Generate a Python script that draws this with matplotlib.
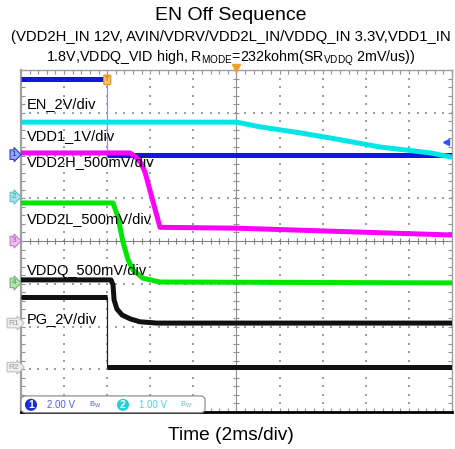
import numpy as np
import matplotlib
matplotlib.use('Agg')
import matplotlib.pyplot as plt
from matplotlib.patches import FancyBboxPatch

plt.rcParams['font.family'] = ['Liberation Sans', 'DejaVu Sans']
plt.rcParams['mathtext.fontset'] = 'custom'
plt.rcParams['mathtext.rm'] = 'Liberation Sans'

# time in ms (2ms/div), voltages in V
en_t = [-10, -6.0, -6.0, 10]
en_v = [3.55, 3.55, 0.0, 0.0]

vdd1_t = [-10, 0.0, 1.1, 2.95, 4.35, 6.65, 9.0, 10]
vdd1_v = [1.75, 1.75, 1.64, 1.50, 1.38, 1.17, 1.03, 0.93]

vdd2h_t = [-10, -4.94, -4.66, -4.43, -4.25, -3.55, 0.0, 10]
vdd2h_v = [1.03, 1.03, 0.98, 0.91, 0.81, 0.16, 0.15, 0.07]

vdd2l_t = [-10, -5.73, -5.50, -5.27, -5.03, -4.80, -4.34, -3.55, 10]
vdd2l_v = [0.935, 0.935, 0.77, 0.48, 0.27, 0.15, 0.055, 0.01, 0.0]

vddq_t = [-10, -5.82, -5.73, -5.68, -5.55, -5.31, -4.94, -4.48, -3.69, 10]
vddq_v = [0.505, 0.505, 0.445, 0.27, 0.165, 0.095, 0.05, 0.015, 0.0, 0.0]

pg_t = [-10, -6.0, -6.0, 10]
pg_v = [3.3, 3.3, 0.0, 0.0]

# channel settings: (V/div, ground position in div)
en_ch = (2.0, 2.02)
vdd1_ch = (1.0, 1.03)
vdd2h_ch = (0.5, 0.0)
vdd2l_ch = (0.5, -0.98)
vddq_ch = (0.5, -1.92)
pg_ch = (2.0, -2.95)

fig = plt.figure(figsize=(4.56, 4.49), dpi=100)
ax = fig.add_axes([21/456, 37/449, 431/456, 342/449])
ax.set_xlim(-10, 10)
ax.set_ylim(-4, 4)

grid_c = '#a0a0a0'
# dotted graticule
for xm in [-8, -6, -4, -2, 2, 4, 6, 8]:
    ys = np.arange(-4, 4.001, 0.2)
    ax.scatter(np.full_like(ys, xm), ys, s=1.2, color=grid_c, marker='s', lw=0, zorder=1)
for ym in [-3, -2, -1, 1, 2, 3]:
    xs = np.arange(-10, 10.001, 0.4)
    ax.scatter(xs, np.full_like(xs, ym), s=1.2, color=grid_c, marker='s', lw=0, zorder=1)
# center cross with ticks
xs = np.arange(-10, 10.001, 0.4)
ax.plot(xs, np.zeros_like(xs), color='#808080', lw=0.8, marker='|', ms=5, mew=0.8, zorder=1)
ys = np.arange(-4, 4.001, 0.2)
ax.plot(np.zeros_like(ys), ys, color='#909090', lw=0.8, marker='_', ms=5, mew=0.8, zorder=1)

ax.set_xticks(np.arange(-10, 10.001, 0.4))
ax.set_yticks(np.arange(-4, 4.001, 0.2))
ax.tick_params(direction='in', length=3, width=0.8, color='#909090',
               top=True, right=True, labelbottom=False, labelleft=False)
for s in ['top', 'right']:
    ax.spines[s].set_color('#a0a0a0')
    ax.spines[s].set_linewidth(1.0)
ax.spines['left'].set_color('#a0a0a0')
ax.spines['left'].set_linewidth(1.6)
ax.spines['bottom'].set_color('black')
ax.spines['bottom'].set_linewidth(2)


def trace(t, v, ch, color, edge_color, z):
    scale, pos = ch
    y = np.array(v) / scale + pos
    t = np.array(t, dtype=float)
    ax.plot(t, y, color=edge_color, lw=0.9, zorder=z)
    # thick where the signal is not a vertical edge
    start = 0
    for i in range(1, len(t)):
        if t[i] == t[i - 1]:
            ax.plot(t[start:i], y[start:i], color=color, lw=3.6,
                    solid_capstyle='butt', solid_joinstyle='round', zorder=z)
            start = i
    ax.plot(t[start:], y[start:], color=color, lw=3.6,
            solid_capstyle='butt', solid_joinstyle='round', zorder=z)


trace(en_t, en_v, en_ch, '#1414e6', '#8c8cff', 3)
trace(vdd1_t, vdd1_v, vdd1_ch, '#00e6e6', '#00e6e6', 4)
trace(vdd2h_t, vdd2h_v, vdd2h_ch, '#ff00ff', '#ff00ff', 5)
trace(vdd2l_t, vdd2l_v, vdd2l_ch, '#00e600', '#00e600', 6)
trace(vddq_t, vddq_v, vddq_ch, '#111111', '#111111', 7)
trace(pg_t, pg_v, pg_ch, '#111111', '#222222', 7)

# channel labels
labels = ['EN_2V/div', 'VDD1_1V/div', 'VDD2H_500mV/div', 'VDD2L_500mV/div',
          'VDDQ_500mV/div', 'PG_2V/div']
label_y = [3.11, 2.36, 1.75, 0.42, -0.80, -1.92]
for lab, ly in zip(labels, label_y):
    ax.text(-9.72, ly, lab, fontsize=10.5, va='baseline', ha='left', zorder=8)

# ground markers on the left
markers = [('1', en_ch[1], '#9aa8f4', '#2a3ad0', '#1a2ab0'),
           ('2', vdd1_ch[1], '#a8e4e6', '#5cc0c8', '#3aa0a8'),
           ('3', vdd2h_ch[1], '#f0bcf0', '#c080d0', '#9060a0'),
           ('4', vdd2l_ch[1], '#b4e4b4', '#70b070', '#4a904a'),
           ('R1', vddq_ch[1], '#eeeeee', '#c0c0c0', '#9a9a9a'),
           ('R2', pg_ch[1], '#eeeeee', '#c0c0c0', '#9a9a9a')]
for txt, yy, fc, ec, tc in markers:
    ax.text(-0.017, (yy + 4) / 8, txt, transform=ax.transAxes, fontsize=6,
            ha='center', va='center', color=tc, clip_on=False, zorder=9,
            bbox=dict(boxstyle='rarrow,pad=0.15', fc=fc, ec=ec, lw=0.8))

# trigger markers
ax.plot(0, 4.05, marker='v', color='#f0a030', ms=6, clip_on=False, zorder=9)
ax.text(-6.0, 3.77, 'T', fontsize=5, ha='center', va='center', color='#b06000', zorder=9,
        bbox=dict(boxstyle='round,pad=0.2', fc='#f8c060', ec='#e89020', lw=0.8))
ax.plot(9.7, 2.32, marker='<', color='#3050ff', ms=4, zorder=9, clip_on=False)

# info box at the bottom
box = FancyBboxPatch((0, -0.002), 0.427, 0.049, boxstyle='round,pad=0,rounding_size=0.012',
                     transform=ax.transAxes, fc='white', ec='#909090', lw=0.9,
                     clip_on=False, zorder=10)
ax.add_patch(box)
iy = 0.021
ax.text((31 - 21) / 431, iy, '1', transform=ax.transAxes, fontsize=7.5, color='white',
        ha='center', va='center', zorder=11, fontweight='bold',
        bbox=dict(boxstyle='circle,pad=0.1', fc='#1a2fd6', ec='none'))
ax.text((47 - 21) / 431, iy, '2.00 V', transform=ax.transAxes, fontsize=7,
        color='#5060f0', ha='left', va='center', zorder=11)
ax.text((95 - 21) / 431, iy, r'$\mathregular{B_W}$', transform=ax.transAxes, fontsize=5.5,
        color='#5060f0', ha='center', va='center', zorder=11)
ax.text((123 - 21) / 431, iy, '2', transform=ax.transAxes, fontsize=7.5, color='white',
        ha='center', va='center', zorder=11, fontweight='bold',
        bbox=dict(boxstyle='circle,pad=0.1', fc='#20d0dc', ec='none'))
ax.text((139 - 21) / 431, iy, '1.00 V', transform=ax.transAxes, fontsize=7,
        color='#40d8e0', ha='left', va='center', zorder=11)
ax.text((186 - 21) / 431, iy, r'$\mathregular{B_W}$', transform=ax.transAxes, fontsize=5.5,
        color='#40d8e0', ha='center', va='center', zorder=11)

# titles
cx = 231 / 456
fig.text(cx, 1 - 20 / 449, 'EN Off Sequence', fontsize=14, ha='center', va='baseline')
fig.text(cx, 1 - 41 / 449, '(VDD2H_IN 12V, AVIN/VDRV/VDD2L_IN/VDDQ_IN 3.3V,VDD1_IN',
         fontsize=10.7, ha='center', va='baseline')
fig.text(cx, 1 - 62 / 449,
         r'1.8V,VDDQ_VID high, R$_\mathrm{MODE}$=232kohm(SR$_\mathrm{VDDQ}$ 2mV/us))',
         fontsize=10.3, ha='center', va='baseline')
fig.text(cx, 1 - 440 / 449, 'Time (2ms/div)', fontsize=13.8, ha='center', va='baseline')

fig.savefig('out.png', dpi=100)
